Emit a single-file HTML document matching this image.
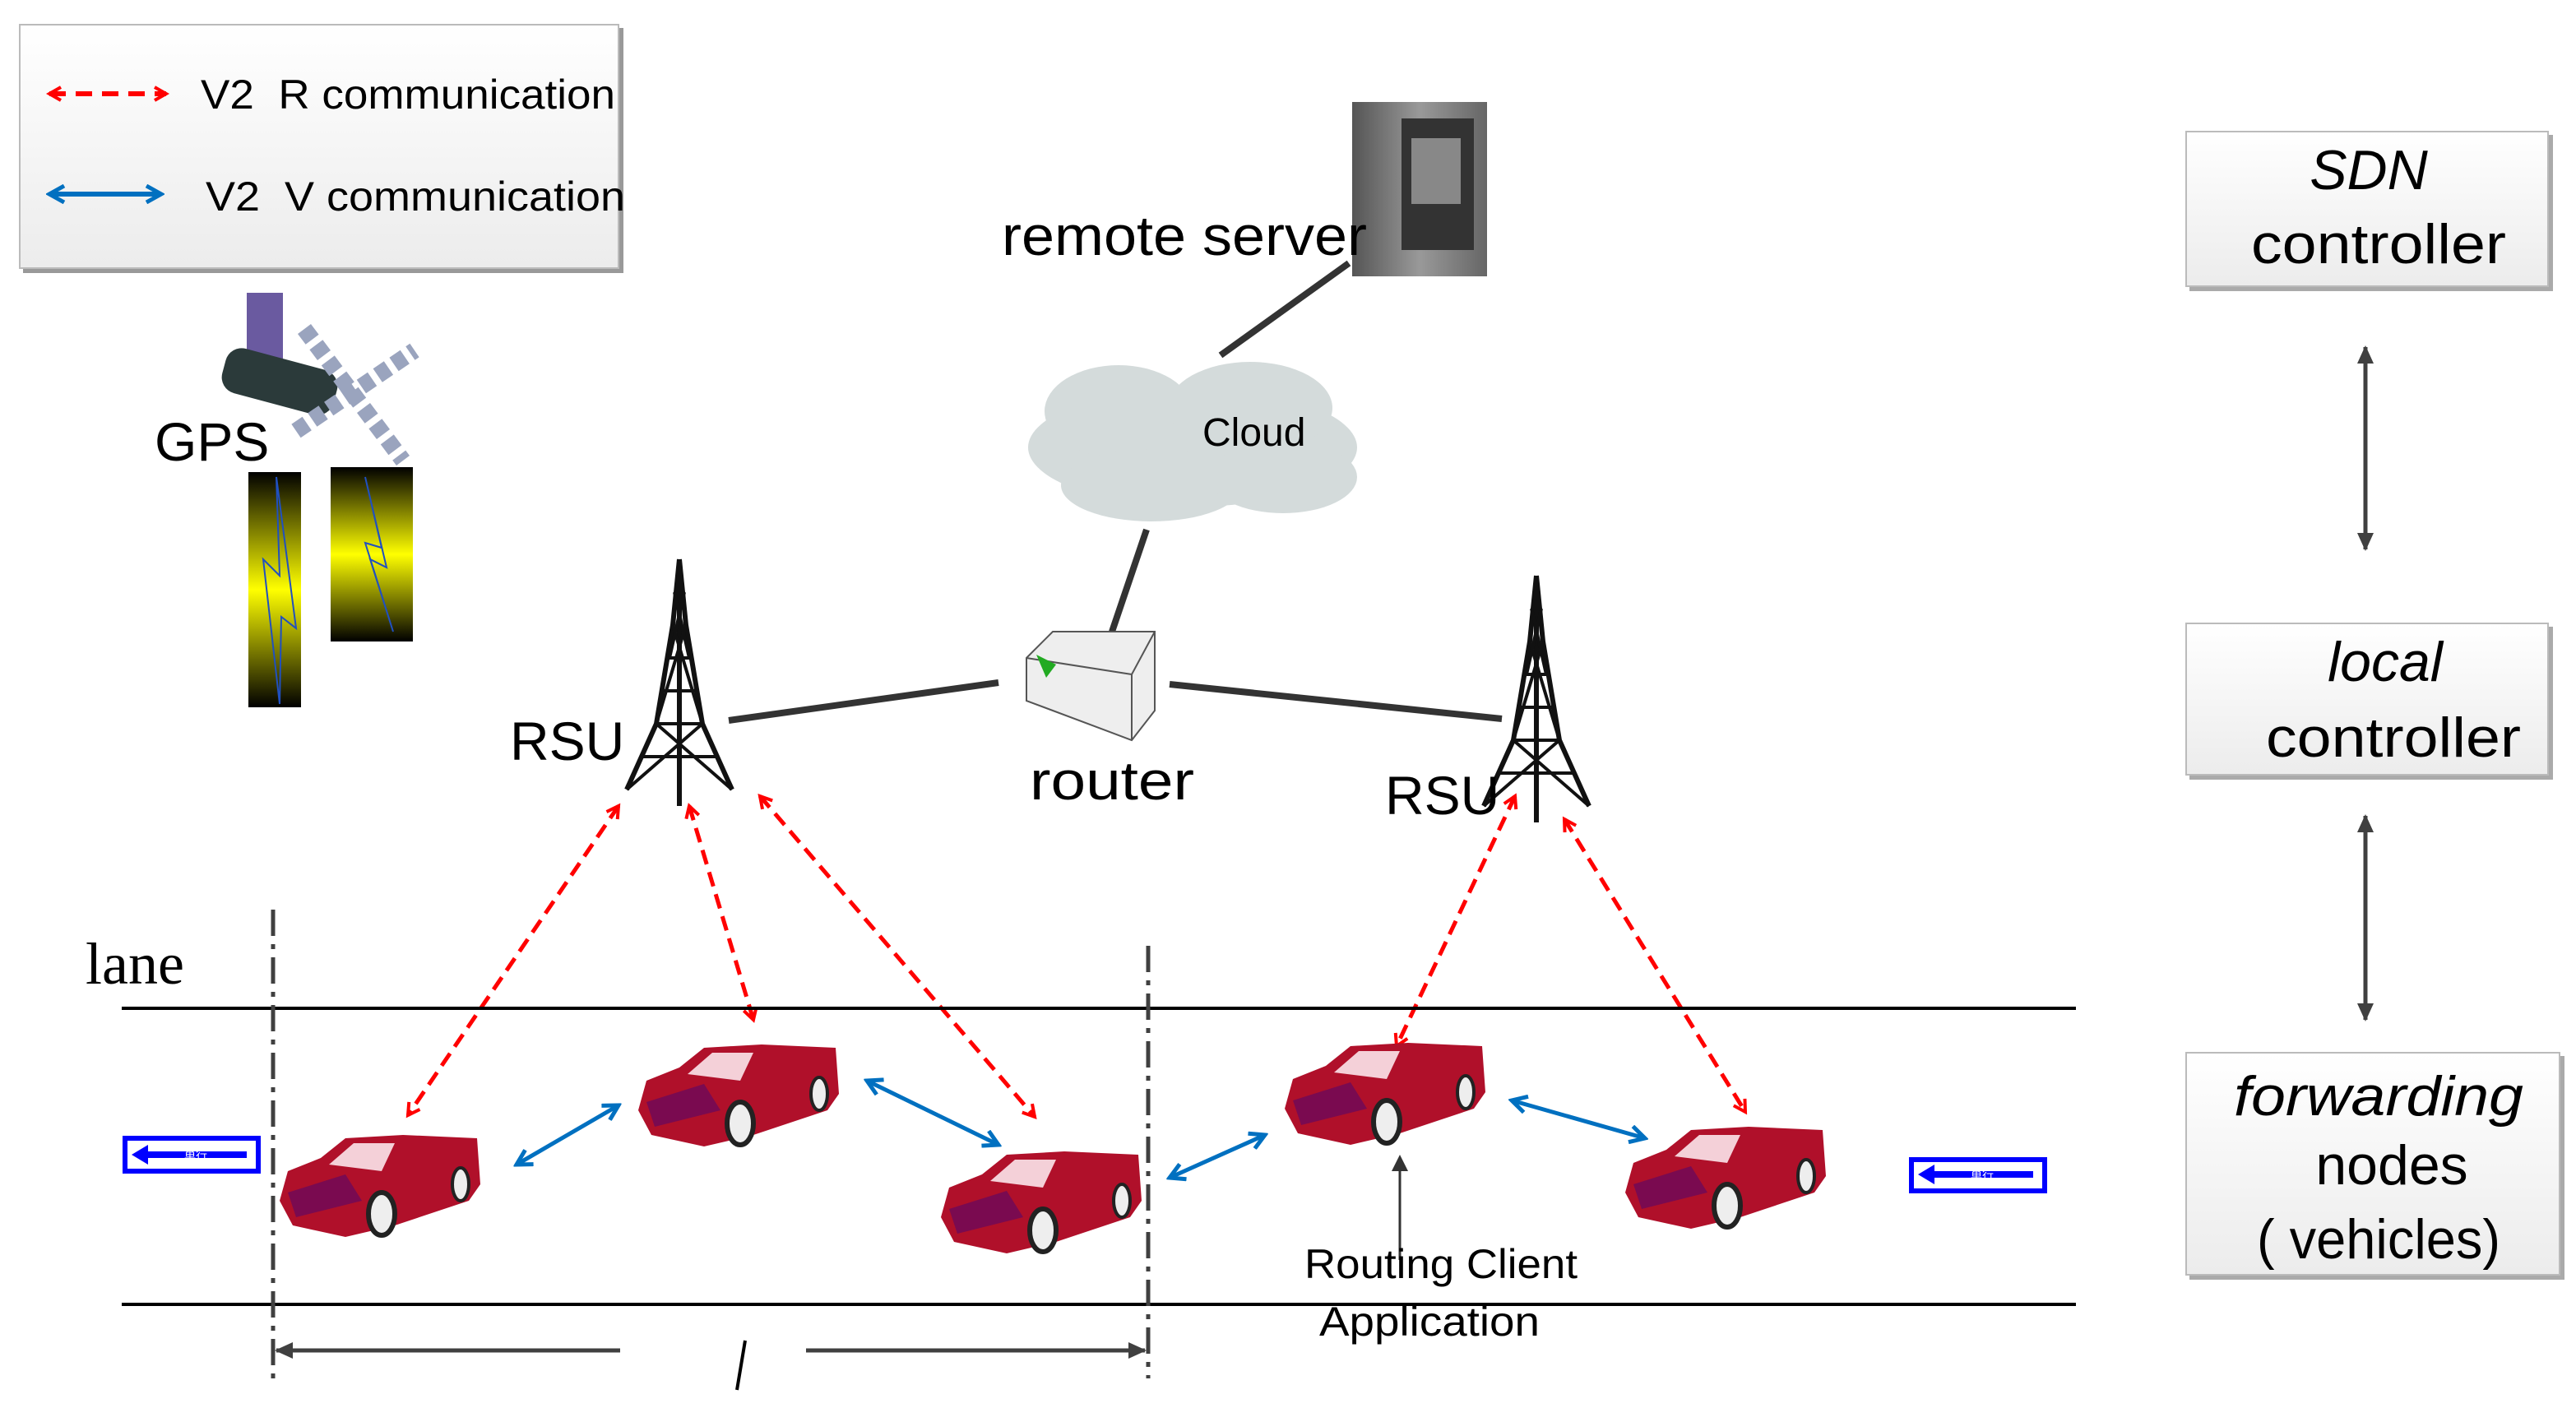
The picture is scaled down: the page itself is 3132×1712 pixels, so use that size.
<!DOCTYPE html>
<html><head><meta charset="utf-8"><style>
html,body{margin:0;padding:0;background:#fff;}
svg{display:block}
text{font-family:"Liberation Sans","DejaVu Sans",sans-serif;}
</style></head><body>
<svg width="3132" height="1712" viewBox="0 0 1566 856" xmlns="http://www.w3.org/2000/svg">
<defs>
<linearGradient id="lg" x1="0" y1="0" x2="0" y2="1"><stop offset="0" stop-color="#fff"/><stop offset="1" stop-color="#ececec"/></linearGradient>
<linearGradient id="yb" x1="0" y1="0" x2="0" y2="1"><stop offset="0" stop-color="#000"/><stop offset="0.5" stop-color="#ffff00"/><stop offset="1" stop-color="#000"/></linearGradient>
<linearGradient id="cab" x1="0" y1="0" x2="1" y2="0"><stop offset="0" stop-color="#555"/><stop offset="0.5" stop-color="#999"/><stop offset="1" stop-color="#666"/></linearGradient>
<marker id="ar" markerWidth="10" markerHeight="10" refX="8" refY="5" orient="auto-start-reverse" markerUnits="userSpaceOnUse"><path d="M1,1 L8,5 L1,9" fill="none" stroke="#f00" stroke-width="2"/></marker>
<marker id="ab" markerWidth="12" markerHeight="12" refX="10" refY="6" orient="auto-start-reverse" markerUnits="userSpaceOnUse"><path d="M1,1 L10,6 L1,11" fill="none" stroke="#0070c0" stroke-width="2.5"/></marker>
<marker id="ag" markerWidth="12" markerHeight="12" refX="10" refY="6" orient="auto-start-reverse" markerUnits="userSpaceOnUse"><path d="M0,1 L11,6 L0,11 Z" fill="#404040"/></marker>
<g id="car">
<path d="M0,40 L5,22 L25,14 L40,2 L75,0 L120,2 L122,30 L115,40 L70,55 L40,62 L8,55 Z" fill="#b0102a"/>
<path d="M30,18 L45,5 L70,5 L62,22 Z" fill="#f4d0d8"/>
<path d="M5,35 L40,24 L50,40 L10,50Z" fill="#7a0a50"/>
<ellipse cx="62" cy="48" rx="8" ry="13" fill="#eee" stroke="#222" stroke-width="3"/>
<ellipse cx="110" cy="30" rx="5" ry="10" fill="#eee" stroke="#222" stroke-width="2"/>
</g>
<g id="tower">
<path d="M0,0 L-4,40 L-14,100 L-32,140 M0,0 L4,40 L14,100 L32,140 M0,0 L0,150" stroke="#111" stroke-width="3" fill="none"/>
<path d="M-4,40 L14,100 M4,40 L-14,100 M-14,100 L32,140 M14,100 L-32,140 M-6,60 L6,60 M-10,80 L10,80 M-14,100 L14,100 M-22,120 L22,120 M-3,20 L3,20 M-3,20 L6,60 M3,20 L-6,60" stroke="#111" stroke-width="2" fill="none"/>
</g>
</defs>

<!-- legend -->
<rect x="14" y="17" width="365" height="149" fill="#999"/>
<rect x="12" y="15" width="364" height="148" fill="url(#lg)" stroke="#bbb"/>
<line x1="30" y1="57" x2="101" y2="57" stroke="#f00" stroke-width="3" stroke-dasharray="10,6" marker-start="url(#ar)" marker-end="url(#ar)"/>
<text x="122" y="66" font-size="25" textLength="252" lengthAdjust="spacingAndGlyphs">V2&#160;&#160;R communication</text>
<line x1="30" y1="118" x2="98" y2="118" stroke="#0070c0" stroke-width="3" marker-start="url(#ab)" marker-end="url(#ab)"/>
<text x="125" y="128" font-size="25" textLength="255" lengthAdjust="spacingAndGlyphs">V2&#160;&#160;V communication</text>

<!-- GPS -->
<rect x="150" y="178" width="22" height="40" fill="#6a5aa0"/>
<rect x="135" y="218" width="70" height="28" rx="10" fill="#2b3a3a" transform="rotate(15 170 232)"/>
<line x1="185" y1="200" x2="245" y2="280" stroke="#9aa4be" stroke-width="10" stroke-dasharray="8,4"/>
<line x1="180" y1="262" x2="252" y2="213" stroke="#9aa4be" stroke-width="10" stroke-dasharray="8,4"/>
<text x="94" y="280" font-size="33">GPS</text>
<rect x="151" y="287" width="32" height="143" fill="url(#yb)"/>
<rect x="201" y="284" width="50" height="106" fill="url(#yb)"/>
<path d="M168,290 L180,382 L171,375 L170,428 L160,340 L170,350 Z" fill="none" stroke="#2050c0" stroke-width="1"/>
<path d="M222,290 L235,345 L225,340 L239,384 L222,330 L232,333 Z" fill="none" stroke="#2050c0" stroke-width="1"/>

<!-- remote server -->
<rect x="822" y="62" width="82" height="106" fill="url(#cab)"/>
<rect x="852" y="72" width="44" height="80" fill="#333"/>
<rect x="858" y="84" width="30" height="40" fill="#888"/>
<text x="609" y="155" font-size="34" textLength="222" lengthAdjust="spacingAndGlyphs">remote server</text>
<line x1="742" y1="216" x2="820" y2="160" stroke="#333" stroke-width="4"/>

<!-- cloud -->
<g fill="#d4dbdb">
<ellipse cx="725" cy="272" rx="100" ry="36"/>
<ellipse cx="680" cy="250" rx="45" ry="28"/>
<ellipse cx="760" cy="248" rx="50" ry="28"/>
<ellipse cx="700" cy="295" rx="55" ry="22"/>
<ellipse cx="780" cy="290" rx="45" ry="22"/>
</g>
<text x="731" y="271" font-size="24">Cloud</text>
<line x1="697" y1="322" x2="676" y2="384" stroke="#333" stroke-width="4"/>

<!-- router -->
<path d="M624,400 L640,384 L702,384 L702,432 L688,450 L624,426 Z" fill="#eee" stroke="#555"/>
<path d="M624,400 L688,410 L702,384 M688,410 L688,450" fill="none" stroke="#555"/>
<path d="M630,398 L642,404 L636,412" fill="#2a2" />
<text x="626" y="486" font-size="33" textLength="100" lengthAdjust="spacingAndGlyphs">router</text>

<!-- towers -->
<use href="#tower" transform="translate(413,340)"/>
<text x="310" y="462" font-size="33">RSU</text>
<line x1="443" y1="438" x2="607" y2="415" stroke="#333" stroke-width="4"/>
<use href="#tower" transform="translate(934,350)"/>
<text x="842" y="495" font-size="33">RSU</text>
<line x1="711" y1="416" x2="913" y2="437" stroke="#333" stroke-width="4"/>

<!-- V2R arrows -->
<g stroke="#f00" stroke-width="2.5" stroke-dasharray="9,5" fill="none" marker-start="url(#ar)" marker-end="url(#ar)">
<line x1="376" y1="490" x2="248" y2="678"/>
<line x1="419" y1="490" x2="458" y2="620"/>
<line x1="462" y1="484" x2="629" y2="679"/>
<line x1="921" y1="484" x2="849" y2="636"/>
<line x1="951" y1="498" x2="1061" y2="676"/>
</g>

<!-- lane -->
<text x="52" y="598" font-size="36" style="font-family:'Liberation Serif',serif">lane</text>
<line x1="74" y1="613" x2="1262" y2="613" stroke="#000" stroke-width="2"/>
<line x1="74" y1="793" x2="1262" y2="793" stroke="#000" stroke-width="2"/>
<g stroke="#404040" stroke-width="2.5" stroke-dasharray="16,5,3,5">
<line x1="166" y1="553" x2="166" y2="838"/>
<line x1="698" y1="575" x2="698" y2="838"/>
</g>

<!-- cars -->
<use href="#car" transform="translate(170,690)"/>
<use href="#car" transform="translate(388,635)"/>
<use href="#car" transform="translate(572,700)"/>
<use href="#car" transform="translate(781,634)"/>
<use href="#car" transform="translate(988,685)"/>

<!-- V2V arrows -->
<g stroke="#0070c0" stroke-width="2.5" marker-start="url(#ab)" marker-end="url(#ab)">
<line x1="314" y1="708" x2="376" y2="672"/>
<line x1="527" y1="657" x2="607" y2="696"/>
<line x1="711" y1="716" x2="769" y2="690"/>
<line x1="919" y1="669" x2="1000" y2="692"/>
</g>

<!-- signs -->
<rect x="76" y="692" width="81" height="20" fill="#fff" stroke="#00f" stroke-width="3"/>
<path d="M80,702 L90,696 L90,700 L150,700 L150,704 L90,704 L90,708 Z" fill="#00f"/>
<text x="112" y="705" font-size="7" fill="#fff" style="font-family:'Noto Sans CJK JP',sans-serif">単行</text>
<rect x="1162" y="705" width="81" height="19" fill="#fff" stroke="#00f" stroke-width="3"/>
<path d="M1166,714 L1176,708 L1176,712 L1236,712 L1236,716 L1176,716 L1176,720 Z" fill="#00f"/>
<text x="1198" y="717" font-size="7" fill="#fff" style="font-family:'Noto Sans CJK JP',sans-serif">単行</text>

<!-- routing client -->
<line x1="851" y1="766" x2="851" y2="706" stroke="#333" stroke-width="1.5"/>
<path d="M846,712 L851,702 L856,712 Z" fill="#333"/>
<text x="876" y="777" font-size="25" text-anchor="middle" textLength="166" lengthAdjust="spacingAndGlyphs">Routing Client</text>
<text x="869" y="812" font-size="25" text-anchor="middle" textLength="134" lengthAdjust="spacingAndGlyphs">Application</text>

<!-- dimension -->
<g stroke="#404040" stroke-width="2.5">
<line x1="168" y1="821" x2="377" y2="821" marker-start="url(#ag)"/>
<line x1="490" y1="821" x2="696" y2="821" marker-end="url(#ag)"/>
</g>
<line x1="453" y1="815" x2="448" y2="845" stroke="#000" stroke-width="2"/>

<!-- right boxes -->
<g>
<rect x="1331" y="82" width="221" height="95" fill="#aaa"/>
<rect x="1329" y="80" width="220" height="94" fill="url(#lg)" stroke="#bbb"/>
<text x="1440" y="115" font-size="34" font-style="italic" text-anchor="middle">SDN</text>
<text x="1446" y="160" font-size="34" text-anchor="middle" textLength="155" lengthAdjust="spacingAndGlyphs">controller</text>
<rect x="1331" y="381" width="221" height="93" fill="#aaa"/>
<rect x="1329" y="379" width="220" height="92" fill="url(#lg)" stroke="#bbb"/>
<text x="1450" y="414" font-size="34" font-style="italic" text-anchor="middle">local</text>
<text x="1455" y="460" font-size="34" text-anchor="middle" textLength="155" lengthAdjust="spacingAndGlyphs">controller</text>
<rect x="1331" y="642" width="228" height="136" fill="#aaa"/>
<rect x="1329" y="640" width="227" height="135" fill="url(#lg)" stroke="#bbb"/>
<text x="1446" y="678" font-size="34" font-style="italic" text-anchor="middle" textLength="176" lengthAdjust="spacingAndGlyphs">forwarding</text>
<text x="1454" y="720" font-size="34" text-anchor="middle">nodes</text>
<text x="1446" y="765" font-size="34" text-anchor="middle" textLength="148" lengthAdjust="spacingAndGlyphs">( vehicles)</text>
</g>
<g stroke="#404040" stroke-width="2.5">
<line x1="1438" y1="211" x2="1438" y2="334" marker-start="url(#ag)" marker-end="url(#ag)"/>
<line x1="1438" y1="496" x2="1438" y2="620" marker-start="url(#ag)" marker-end="url(#ag)"/>
</g>
</svg>
</body></html>
